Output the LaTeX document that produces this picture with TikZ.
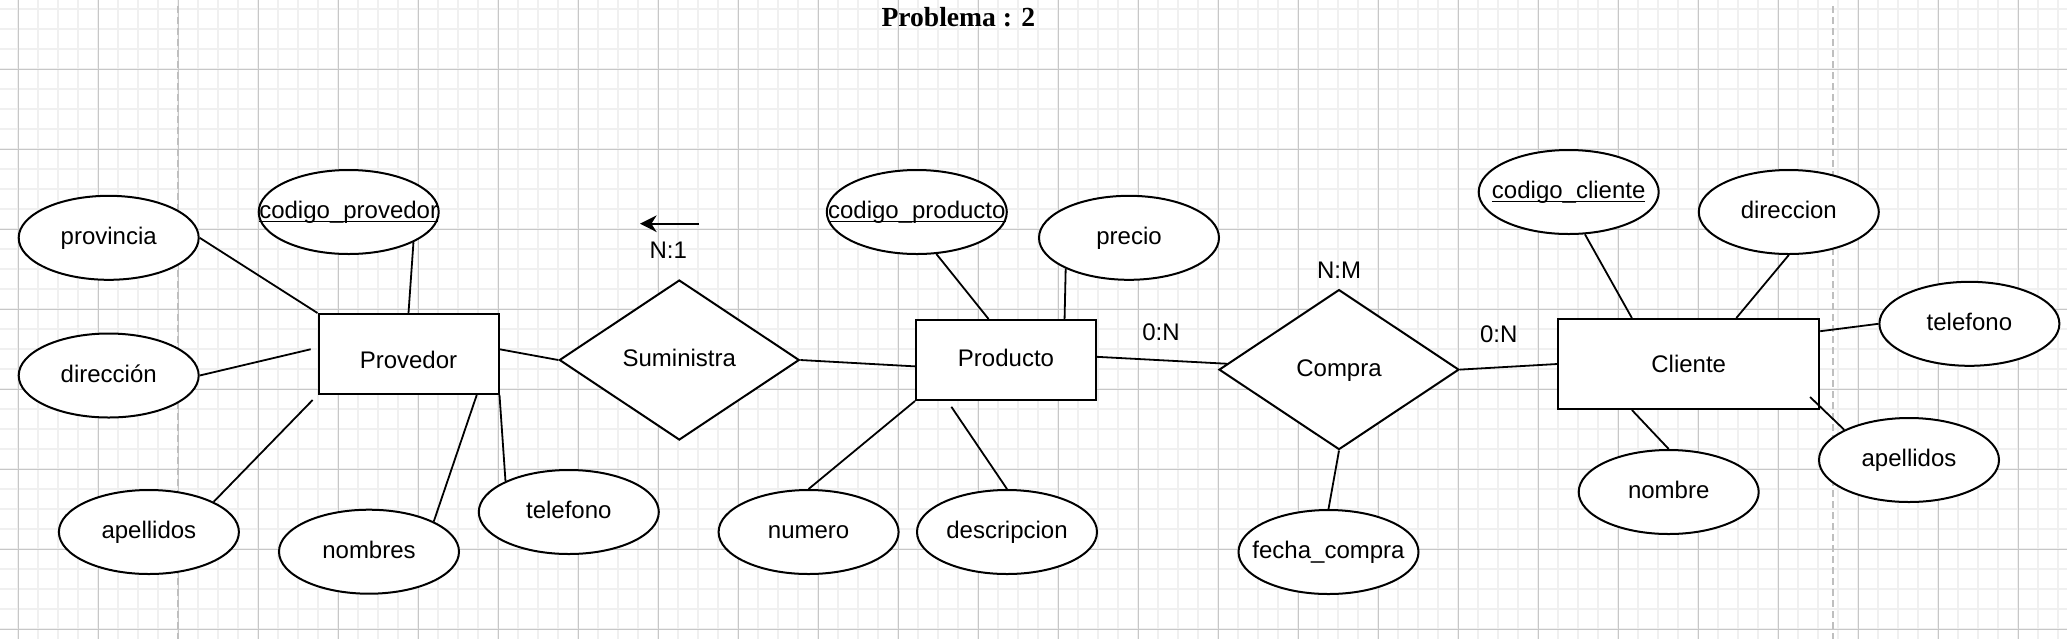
\documentclass[tikz,border=0pt]{standalone}
\usepackage{fontspec}
\setmainfont{Liberation Sans}
\newfontfamily\titlefont{Liberation Serif}
\usetikzlibrary{shapes.geometric,arrows.meta}
\newcommand{\attname}[1]{\makebox[0pt]{#1}}
\newcommand{\keyname}[1]{\makebox[0pt]{\underline{\smash{#1}}}}

\begin{document}
\begin{tikzpicture}[x=0.5pt,y=-0.5pt,
    font=\fontsize{12}{14}\selectfont,
    every node/.style={text height=0.905em, text depth=0.212em},
    attrib/.style={ellipse, draw, fill=white, line width=1pt, minimum width=90pt, minimum height=42pt, inner sep=0pt},
    entity/.style={rectangle, draw, fill=white, line width=1pt, minimum width=90pt, minimum height=40pt, inner sep=0pt},
    relation/.style={diamond, draw, fill=white, line width=1pt, minimum width=120pt, minimum height=80pt, inner sep=0pt},
    link/.style={line width=0.9pt},
    card/.style={inner sep=0pt}]
      \useasboundingbox (0,0) rectangle (2067,639);
      \fill[white] (0,0) rectangle (2067,639);

      % grid
      \foreach \x in {18.3,38.3,...,2062} {
        \draw[line width=1pt, black!6] (\x,0) -- (\x,639);
      }
      \foreach \y in {9.3,29.3,...,639} {
        \draw[line width=1pt, black!6] (0,\y) -- (2067,\y);
      }
      \foreach \x in {18.3,98.3,...,2062} {
        \draw[line width=0.5pt, black!22] (\x,0) -- (\x,639);
      }
      \foreach \y in {69.3,149.3,...,639} {
        \draw[line width=0.5pt, black!22] (0,\y) -- (2067,\y);
      }
      \foreach \x in {178.3, 1832.7} {
        \draw[line width=1pt, black!25, dash pattern=on 3.5pt off 2pt] (\x,6) -- (\x,639);
      }

      \node[anchor=base, text height=, text depth=, font=\titlefont\bfseries\fontsize{13.8}{16}\selectfont] (title) at (958.3,26) {Problema : 2};

      % Provedor
      \node[entity] (provedor) at (408.5,354) {\raisebox{-3.8pt}{Provedor}};
      \node[attrib] (provincia) at (108.7,237.8) {\attname{provincia}};
      \node[attrib] (codprovedor) at (348.7,212) {\keyname{codigo\_provedor}};
      \node[attrib] (direccionprov) at (108.7,375.5) {\attname{dirección}};
      \node[attrib] (apellidosprov) at (148.9,532) {\attname{apellidos}};
      \node[attrib] (nombres) at (369,551.7) {\attname{nombres}};
      \node[attrib] (telefonoprov) at (568.8,512) {\attname{telefono}};

      \node[relation] (suministra) at (679.3,360) {Suministra};
      \coordinate (arrowtail) at (699,223.7);
      \coordinate (arrowtip) at (640,223.7);
      \draw[line width=1pt, -{Stealth[length=8.3pt, width=8.3pt, inset=2.6pt]}] (arrowtail) -- (arrowtip);
      \node[card] (cardsuministra) at (668.3,252) {N:1};

      % Producto
      \node[entity] (producto) at (1006,360) {Producto};
      \node[attrib] (codproducto) at (916.8,212) {\keyname{codigo\_producto}};
      \node[attrib] (precio) at (1129,237.8) {\attname{precio}};
      \node[attrib] (numero) at (808.6,532) {\attname{numero}};
      \node[attrib] (descripcion) at (1007,532) {\attname{descripcion}};

      \node[relation] (compra) at (1339,369.6) {Compra};
      \node[attrib] (fechacompra) at (1328.5,552) {\attname{fecha\_compra}};
      \node[card] (cardproducto) at (1161,334) {0:N};
      \node[card] (cardcompra) at (1339,271.7) {N:M};
      \node[card] (cardcliente) at (1498.7,336) {0:N};

      % Cliente
      \node[entity, minimum width=130.5pt, minimum height=45pt] (cliente) at (1688.7,364) {\raisebox{-0.8pt}{Cliente}};
      \node[attrib] (codcliente) at (1568.7,192) {\keyname{codigo\_cliente}};
      \node[attrib] (direccioncli) at (1788.8,212) {\attname{direccion}};
      \node[attrib] (telefonocli) at (1969.4,323.8) {\attname{telefono}};
      \node[attrib] (apellidoscli) at (1909,460) {\attname{apellidos}};
      \node[attrib] (nombre) at (1668.7,492) {\attname{nombre}};

      \draw[link] (provincia.east) -- (provedor.north west);
      \draw[link] (codprovedor.-25.5) -- (provedor.north);
      \draw[link, shorten >=3.5pt] (direccionprov.east) -- (provedor.176.6);
      \draw[link, shorten >=3.5pt] (apellidosprov.25.2) -- (provedor.south west);
      \draw[link] (nombres.25.8) -- (provedor.-31.4);
      \draw[link] (telefonoprov.154.5) -- (provedor.south east);
      \draw[link] (provedor.3) -- (suministra.west);
      \draw[link] (suministra.east) -- (producto.184);

      \draw[link] (codproducto.-65.9) -- (producto.113.3);
      \draw[link] (precio.206.3) -- (producto.35.3);
      \draw[link] (numero.north) -- (producto.south west);
      \draw[link, shorten >=3.5pt] (descripcion.north) -- (producto.215.5);
      \draw[link] (producto.2) -- (compra.177);
      \draw[link] (compra.south) -- (fechacompra.north);
      \draw[link] (compra.east) -- (cliente.west);

      \draw[link] (codcliente.-69.6) -- (cliente.141.6);
      \draw[link] (direccioncli.south) -- (cliente.44.8);
      \draw[link] (telefonocli.west) -- (cliente.14.6);
      \draw[link, shorten >=-7pt] (apellidoscli.155) -- (cliente.-18.2);
      \draw[link] (nombre.north) -- (cliente.219);
    \end{tikzpicture}
\end{document}
